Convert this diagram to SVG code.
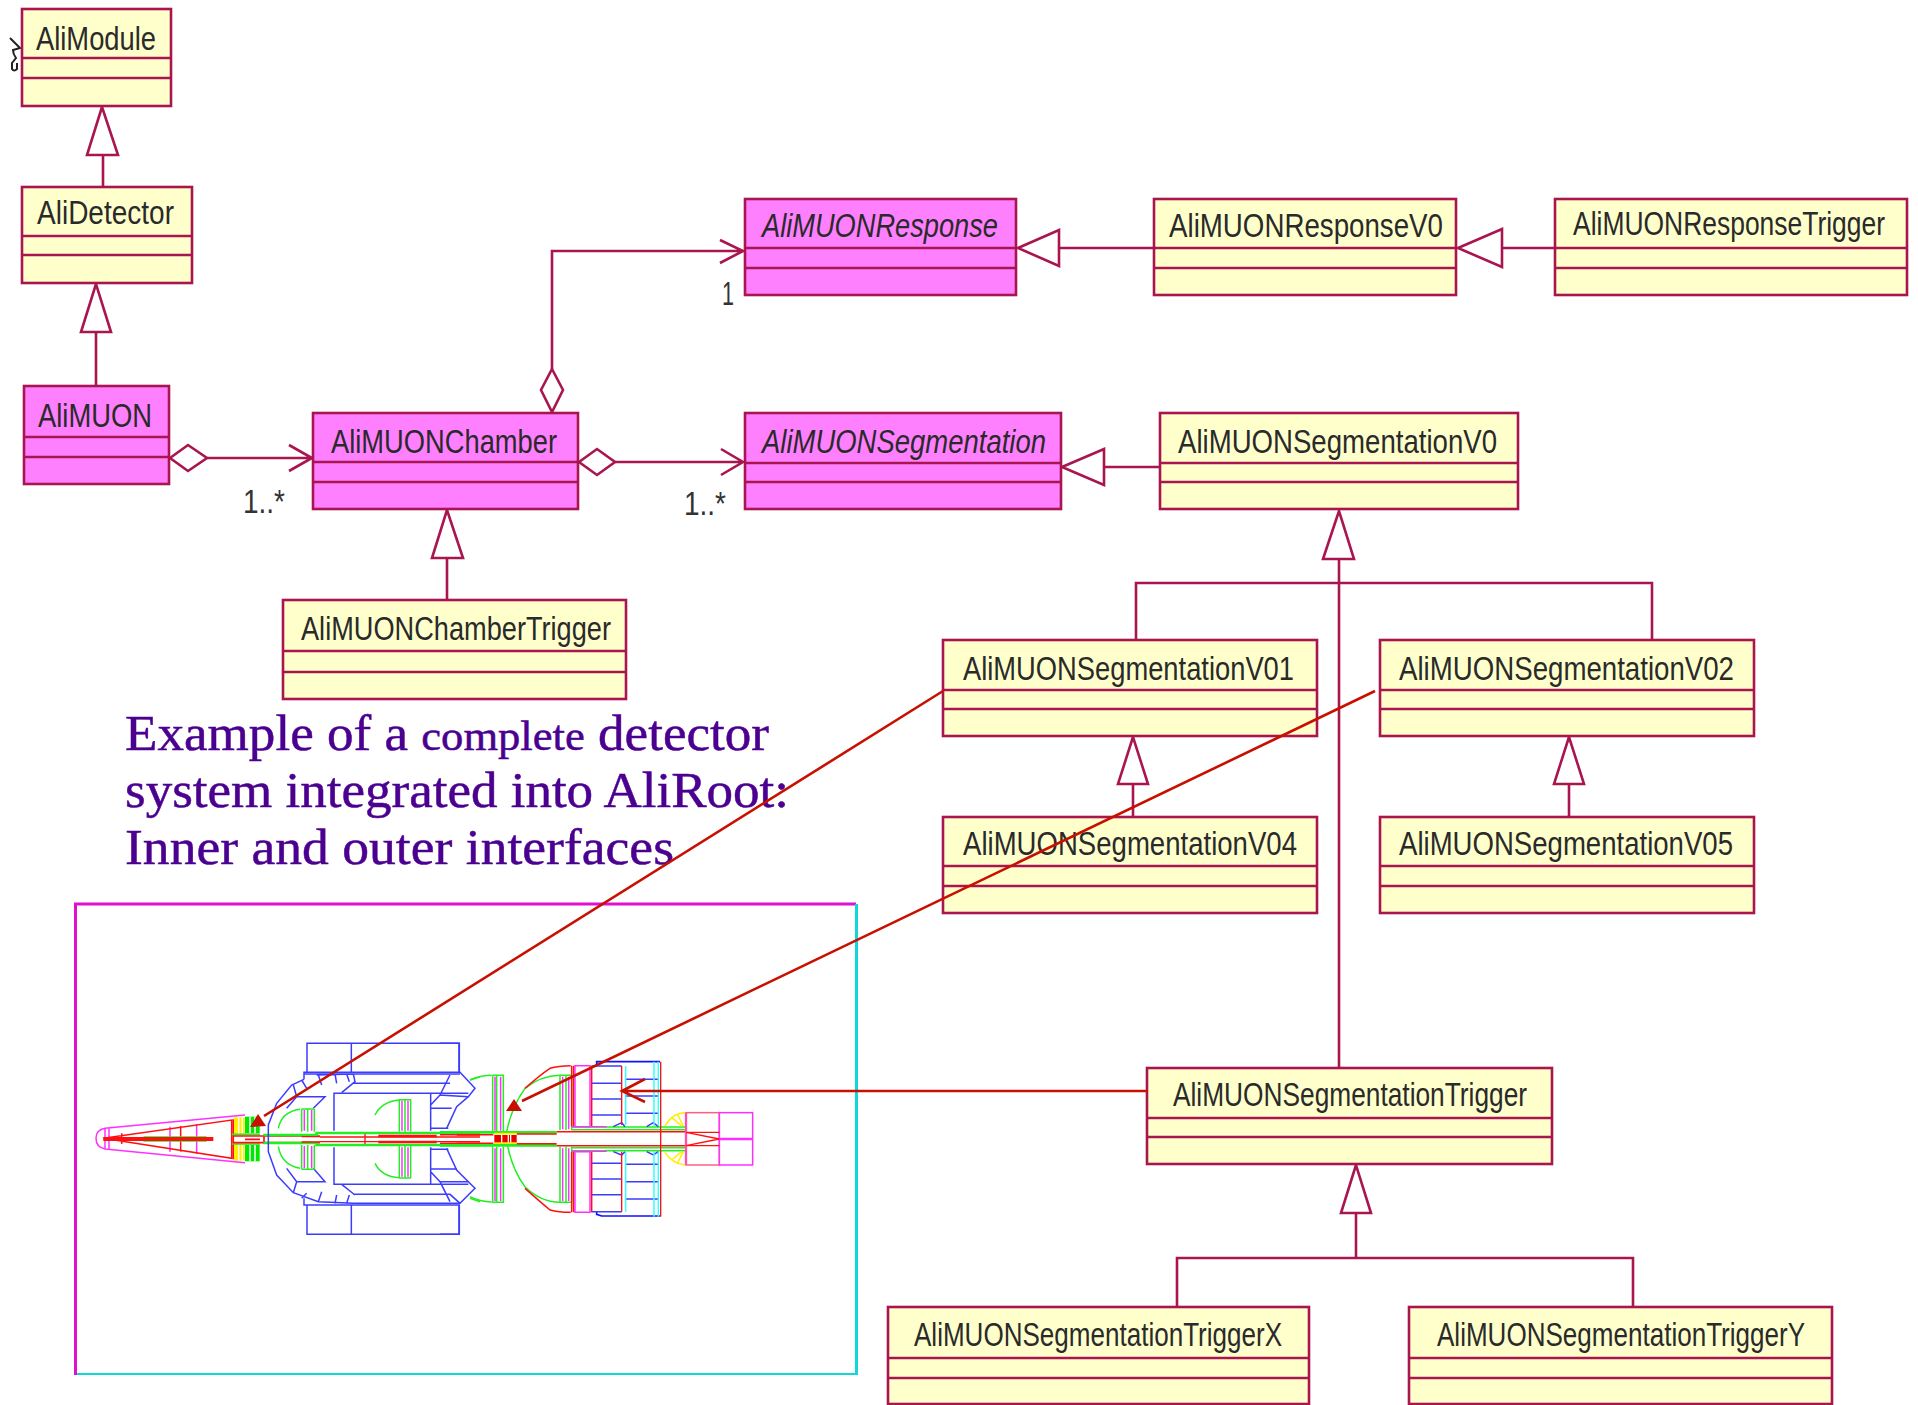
<svg xmlns="http://www.w3.org/2000/svg" width="1918" height="1405" viewBox="0 0 1918 1405">
<style>
.box{stroke:#a8154f;stroke-width:2.6}
.y{fill:#ffffcc}.m{fill:#ff80ff}
.sep{stroke:#a8154f;stroke-width:2.6;fill:none}
.c{fill:none;stroke:#a8154f;stroke-width:2.6}
.h{fill:#fff;stroke:#a8154f;stroke-width:2.6}
.t{font-family:"Liberation Sans",Arial,sans-serif;font-size:33px;fill:#2a2a2a}
.i{font-style:italic}
.l{font-family:"Liberation Sans",Arial,sans-serif;font-size:33px;fill:#333}
.p{font-family:"Liberation Serif","Times New Roman",serif;font-size:50px;fill:#4b0090;stroke:#4b0090;stroke-width:.5}
.r{fill:none;stroke:#c81000;stroke-width:2.6}
.rf{fill:#c81000}
.d path,.d line,.d rect{fill:none;stroke-width:4.5}
.bl{stroke:#3c3cff}.gr{stroke:#22ee22}.rd{stroke:#ff1010}.mg{stroke:#ff30ff}.ye{stroke:#ffee00}.cy{stroke:#30ffff}
</style>
<rect width="1918" height="1405" fill="#fff"/>

<g id="frame" fill="none">
<path d="M75.500 1375V904H856" stroke="#e010d0" stroke-width="3"/>
<path d="M856.500 904V1374" stroke="#10d8d8" stroke-width="3"/>
<path d="M77 1374H858" stroke="#10d8d8" stroke-width="2"/>
</g>

<g id="detector-left" class="d" transform="translate(60 1000) scale(.33333)">
<path class="mg" d="M555 345L135 385Q108 390 108 415Q108 442 135 447L555 488"/>
<path class="mg" d="M135 385V447M147 385V447M330 380V455M410 372V462"/>
<path class="rd" d="M130 415L515 360V475ZM185 400V432M362 378V455M520 358V478"/>
<path class="gr" d="M250 411H440M250 423H440" style="stroke-width:4"/>
<path class="rd" d="M130 417H460" style="stroke-width:12"/>
<rect x="522" y="352" width="32" height="50" style="fill:#ffee00;stroke:none"/>
<rect x="522" y="432" width="32" height="50" style="fill:#ffee00;stroke:none"/>
<path d="M536 352V402M536 432V482M547 352V402M547 432V482" style="stroke:#fff"/>
<rect x="555" y="350" width="44" height="50" style="fill:#00e800;stroke:none"/>
<rect x="555" y="434" width="44" height="50" style="fill:#00e800;stroke:none"/>
<path d="M570 350V400M585 350V400M570 434V484M585 434V484" style="stroke:#fff"/>
<path class="gr" d="M515 403H600M515 432H600" style="stroke-width:5"/>
<path class="rd" d="M520 408H780M520 428H780M555 418H600M612 404V432" style="stroke-width:5"/>
<path class="gr" d="M610 405H770V399H1260M610 429H770V435H1260" style="stroke-width:8"/>
<path class="rd" d="M725 410H780M725 426H780M780 411H1260M780 425H1260M915 402V432" style="stroke-width:4"/>
<path class="rd" d="M955 408H1130M955 426H1130M1190 404H1260M1190 431H1260" style="stroke-width:7"/>
<path class="bl" d="M741 217V130H1197V217M874 130V217M741 615V703H1197V615M874 615V703"/>
<path class="bl" d="M732 238V217H1200L1245 265L1225 290L1190 320L1160 385M732 238L695 255L650 310L625 375V455L650 525L700 578L775 605L880 610H1200L1245 565L1225 545L1190 510L1160 445M732 595V615H1200"/>
<path class="bl" d="M732 222H1200M770 225L880 222L885 245L845 278M880 250H1170M680 325L710 290H795L760 325M680 505L710 545H795L760 505M710 290L700 255M740 265L725 240M785 255L775 225M830 250L825 222M868 245L860 222M710 545L700 578M740 580L725 595M785 575L775 605M830 585L825 610M868 585L860 610M880 583H1170L1200 610M845 553L885 585"/>
<path class="bl" d="M822 392V280H1112V392M822 442V553H1112V442M1112 280H1225M1112 553H1225M1112 325H1175M1112 385H1165M1112 448H1165M1112 507H1190M1140 285L1112 315M1140 545L1112 515M1170 225L1140 285L1225 290M1170 605L1140 545L1225 545"/>
<path class="gr" d="M725 327V395M743 327V395M763 327V395M725 435V508M743 435V508M763 435V508M725 327H763M725 508H763M720 328Q665 335 655 385M655 440Q665 495 720 505M1018 298V395M1035 298V395M1052 298V395M1018 438V535M1035 438V535M1052 438V535M1018 299H1052M1018 534H1052M1018 300Q965 305 945 345M945 490Q965 530 1018 533M1230 240L1260 230M1230 595L1260 605"/>
<path class="mg" d="M733 330V392M755 330V392M733 438V505M755 438V505M1026 302V392M1044 302V392M1026 442V530M1044 442V530"/>
</g>

<g id="detector-right" class="d" transform="translate(440 1000) scale(.33333)">
<path class="bl" d="M0 130H58V217M0 703H58V615"/>
<path class="gr" d="M90 240Q120 226 155 226M90 590Q120 605 155 606M158 226H190V395M158 226V395M170 226V395M158 440V607H190V440M170 440V607M360 226V390M378 226V390M395 226V390M360 440V607M378 440V607M395 440V607M360 226H395M360 607H395"/>
<path class="mg" d="M165 230V392M182 230V392M165 445V603M182 445V603M368 230V388M386 230V388M368 445V603M386 445V603"/>
<path class="gr" d="M200 395Q215 320 255 265Q300 228 360 226M203 440Q220 515 255 560Q300 605 360 607"/>
<path class="rd" d="M255 265Q300 225 330 205Q355 197 392 197M255 565Q300 605 330 630Q355 637 392 637M395 197V380M401 197V380M395 455V637M401 455V637M455 197V380M455 455V637"/>
<path class="mg" d="M405 197H450V380H405ZM405 455H450V637H405Z"/>
<path class="gr" d="M0 397H350M0 436H350" style="stroke-width:8"/>
<path class="rd" d="M0 404H160M0 430H160M230 402H350M230 431H350M350 395H735M350 437H735"/>
<rect x="163" y="405" width="67" height="25" style="fill:#e80000;stroke:none"/>
<path d="M185 405V430M205 405V430M212 405V430" style="stroke:#fff;stroke-width:4"/>
<path class="ye" d="M163 401H230M163 429H230" style="stroke-width:5"/>
<path class="gr" d="M395 381H735M395 389H735M395 443H735M395 452H735"/>
<path class="mg" d="M395 380H500M395 454H500"/>
<path class="bl" d="M470 198L470 185H660" style="stroke:#1010ff;stroke-width:5"/>
<path class="bl" d="M470 635V643L485 648H660" style="stroke:#1010ff;stroke-width:5"/>
<path class="bl" d="M455 198H545M455 250H545M455 297H545M455 345H545M557 238H655M557 288H655M557 340H655M455 490H545M455 537H545M455 584H545M455 635H545M557 493H655M557 545H655M557 597H655M520 380L545 368L555 380M620 380L640 368L655 380M520 455L545 465L555 455M620 455L640 465L655 455"/>
<path class="rd" d="M545 198V375M545 455V635M662 185V650" style="stroke-width:4"/>
<path class="cy" d="M557 198V375M557 455V635M642 185V378M655 185V378M642 455V650M655 455V650"/>
<path class="mg" d="M738 338V495" style="stroke-width:7"/>
<rect x="738" y="338" width="100" height="157" style="stroke:#ff6080"/>
<rect x="838" y="338" width="100" height="157" class="mg"/>
<path class="mg" d="M838 417H938" style="stroke-width:8"/>
<path class="rd" d="M738 397H838M738 437H838M738 397L838 417L738 437" style="stroke-width:4"/>
<path class="ye" d="M735 338Q695 340 675 378M735 495Q695 490 675 457M712 342L730 378M695 352L725 378M712 490L730 455M695 480L725 455"/>
</g>

<g id="connectors">
<path class="c" d="M103 155V186M96 332V386M447 558V600M1059 248H1153M1502 248H1554M1104 467H1160M1339 559V1068M1136 640V583H1652V640M1133 784V817M1569 784V817M1356 1213V1258M1177 1307V1258H1633V1307"/>
<path class="h" d="M102 107L87 155H118ZM96 284L81 332H111ZM447 510L432 558H463ZM1018 248L1059 230V266ZM1458 248L1502 229V267ZM1062 467L1104 449V485ZM1339 511L1323 559H1354ZM1133 737L1118 784H1148ZM1569 737L1554 784H1584ZM1356 1165L1341 1213H1371Z"/>
<path class="h" d="M170 458L188 445L207 458L188 471ZM579 462L597 449L615 462L597 475ZM552 369L563 390L552 412L541 390Z"/>
<path class="c" d="M207 458H312M289 445L312 458L289 471M615 462H743M721 449L743 462L721 475M552 369V251H745M720 240L743 251L720 263"/>
<path d="M10 38L20 48L13 50Q13 54 16 58L12 63V69Q14 72 17 69V63" fill="none" stroke="#222" stroke-width="2"/>
</g>

<g id="AliModule"><rect class="box y" x="22" y="9" width="149" height="97"/><path class="sep" d="M22 58H171M22 78H171"/><text class="t" x="36" y="50" textLength="120" lengthAdjust="spacingAndGlyphs">AliModule</text></g>
<g id="AliDetector"><rect class="box y" x="22" y="187" width="170" height="96"/><path class="sep" d="M22 236H192M22 255H192"/><text class="t" x="37" y="224" textLength="137" lengthAdjust="spacingAndGlyphs">AliDetector</text></g>
<g id="AliMUON"><rect class="box m" x="24" y="386" width="145" height="98"/><path class="sep" d="M24 437H169M24 457H169"/><text class="t" x="38" y="427" textLength="114" lengthAdjust="spacingAndGlyphs">AliMUON</text></g>
<g id="AliMUONChamber"><rect class="box m" x="313" y="413" width="265" height="96"/><path class="sep" d="M313 462H578M313 482H578"/><text class="t" x="331" y="453" textLength="226" lengthAdjust="spacingAndGlyphs">AliMUONChamber</text></g>
<g id="AliMUONChamberTrigger"><rect class="box y" x="283" y="600" width="343" height="99"/><path class="sep" d="M283 651H626M283 672H626"/><text class="t" x="301" y="640" textLength="310" lengthAdjust="spacingAndGlyphs">AliMUONChamberTrigger</text></g>
<g id="AliMUONResponse"><rect class="box m" x="745" y="199" width="271" height="96"/><path class="sep" d="M745 248H1016M745 268H1016"/><text class="t i" x="762" y="237" textLength="236" lengthAdjust="spacingAndGlyphs">AliMUONResponse</text></g>
<g id="AliMUONResponseV0"><rect class="box y" x="1154" y="199" width="302" height="96"/><path class="sep" d="M1154 248H1456M1154 268H1456"/><text class="t" x="1169" y="237" textLength="274" lengthAdjust="spacingAndGlyphs">AliMUONResponseV0</text></g>
<g id="AliMUONResponseTrigger"><rect class="box y" x="1555" y="199" width="352" height="96"/><path class="sep" d="M1555 248H1907M1555 268H1907"/><text class="t" x="1573" y="235" textLength="312" lengthAdjust="spacingAndGlyphs">AliMUONResponseTrigger</text></g>
<g id="AliMUONSegmentation"><rect class="box m" x="745" y="413" width="316" height="96"/><path class="sep" d="M745 463H1061M745 482H1061"/><text class="t i" x="762" y="453" textLength="284" lengthAdjust="spacingAndGlyphs">AliMUONSegmentation</text></g>
<g id="AliMUONSegmentationV0"><rect class="box y" x="1160" y="413" width="358" height="96"/><path class="sep" d="M1160 463H1518M1160 482H1518"/><text class="t" x="1178" y="453" textLength="319" lengthAdjust="spacingAndGlyphs">AliMUONSegmentationV0</text></g>
<g id="AliMUONSegmentationV01"><rect class="box y" x="943" y="640" width="374" height="96"/><path class="sep" d="M943 690H1317M943 709H1317"/><text class="t" x="963" y="680" textLength="331" lengthAdjust="spacingAndGlyphs">AliMUONSegmentationV01</text></g>
<g id="AliMUONSegmentationV02"><rect class="box y" x="1380" y="640" width="374" height="96"/><path class="sep" d="M1380 690H1754M1380 709H1754"/><text class="t" x="1399" y="680" textLength="335" lengthAdjust="spacingAndGlyphs">AliMUONSegmentationV02</text></g>
<g id="AliMUONSegmentationV04"><rect class="box y" x="943" y="817" width="374" height="96"/><path class="sep" d="M943 866H1317M943 886H1317"/><text class="t" x="963" y="855" textLength="334" lengthAdjust="spacingAndGlyphs">AliMUONSegmentationV04</text></g>
<g id="AliMUONSegmentationV05"><rect class="box y" x="1380" y="817" width="374" height="96"/><path class="sep" d="M1380 866H1754M1380 886H1754"/><text class="t" x="1399" y="855" textLength="334" lengthAdjust="spacingAndGlyphs">AliMUONSegmentationV05</text></g>
<g id="AliMUONSegmentationTrigger"><rect class="box y" x="1147" y="1068" width="405" height="96"/><path class="sep" d="M1147 1118H1552M1147 1137H1552"/><text class="t" x="1173" y="1106" textLength="354" lengthAdjust="spacingAndGlyphs">AliMUONSegmentationTrigger</text></g>
<g id="AliMUONSegmentationTriggerX"><rect class="box y" x="888" y="1307" width="421" height="97"/><path class="sep" d="M888 1358H1309M888 1378H1309"/><text class="t" x="914" y="1346" textLength="368" lengthAdjust="spacingAndGlyphs">AliMUONSegmentationTriggerX</text></g>
<g id="AliMUONSegmentationTriggerY"><rect class="box y" x="1409" y="1307" width="423" height="97"/><path class="sep" d="M1409 1358H1832M1409 1378H1832"/><text class="t" x="1437" y="1346" textLength="368" lengthAdjust="spacingAndGlyphs">AliMUONSegmentationTriggerY</text></g>

<g id="labels">
<text class="l" x="243" y="513" textLength="42" lengthAdjust="spacingAndGlyphs">1..*</text>
<text class="l" x="684" y="515" textLength="42" lengthAdjust="spacingAndGlyphs">1..*</text>
<text class="l" x="722" y="305" textLength="12" lengthAdjust="spacingAndGlyphs">1</text>
<text class="p" x="125" y="750" textLength="644" lengthAdjust="spacingAndGlyphs">Example of a <tspan font-size="42">complete</tspan> detector</text>
<text class="p" x="125" y="807" textLength="664" lengthAdjust="spacingAndGlyphs">system integrated into AliRoot:</text>
<text class="p" x="125" y="864" textLength="549" lengthAdjust="spacingAndGlyphs">Inner and outer interfaces</text>
</g>

<g id="callouts">
<path class="r" d="M943 691L264 1116M1375 691L522 1101M1147 1091H622M645 1079L622 1091L645 1102"/>
<path class="rf" d="M258 1114L250 1127L266 1126ZM514 1099L506 1111L522 1111Z"/>
</g>
</svg>
